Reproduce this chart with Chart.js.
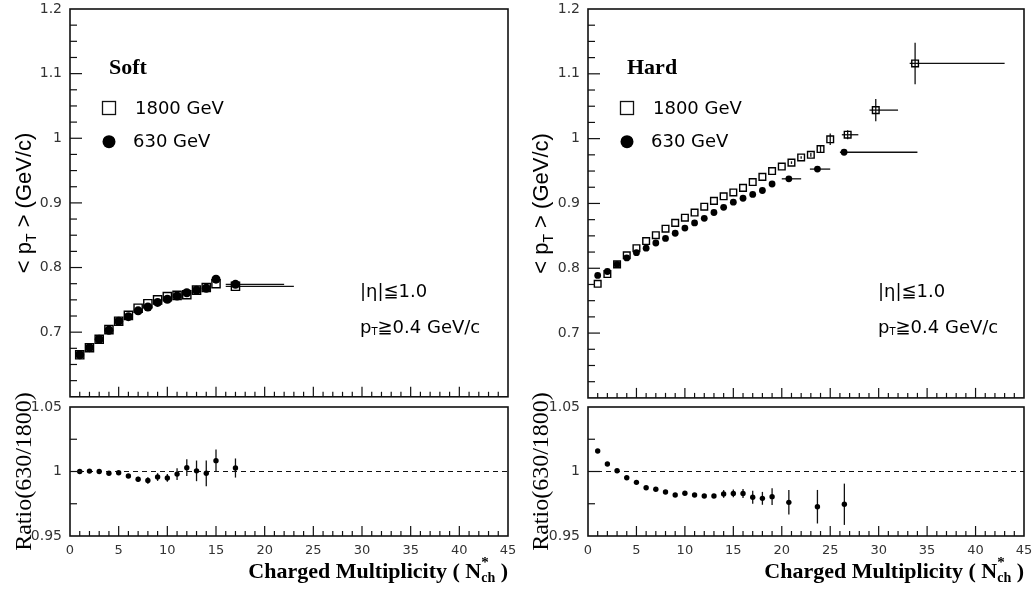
<!DOCTYPE html>
<html>
<head>
<meta charset="utf-8">
<script src="https://cdn.jsdelivr.net/npm/chart.js@4.4.1/dist/chart.umd.min.js"></script>
<style>
  body { margin: 0; background: #fff; }
  #wrap { position: relative; width: 1034px; height: 590px; }
  canvas { position: absolute; }
</style>
</head>
<body>
<div id="wrap">
  <canvas id="softTop" width="517" height="404" style="left:0px;top:0px"></canvas>
  <canvas id="softRatio" width="517" height="210" style="left:0px;top:380px"></canvas>
  <canvas id="hardTop" width="517" height="404" style="left:517px;top:0px"></canvas>
  <canvas id="hardRatio" width="517" height="210" style="left:517px;top:380px"></canvas>
</div>
<script>
// ---- data ----
// Soft events
const softN = [1, 2, 3, 4, 5, 6, 7, 8, 9, 10, 11, 12, 13, 14, 15, 17];
const soft1800 = [0.665, 0.676, 0.689, 0.704, 0.717, 0.726, 0.737, 0.744, 0.750, 0.755, 0.757, 0.758, 0.765, 0.769, 0.775, 0.771];
const soft630 = [0.665, 0.676, 0.689, 0.703, 0.717, 0.724, 0.733, 0.739, 0.746, 0.751, 0.756, 0.761, 0.765, 0.768, 0.782, 0.774];
const soft1800Bins = [[16, 23]];   // x range of the last point(s)
const soft630Bins = [[16, 22]];
const softRatio = [1.000, 1.0003, 1.000, 0.9986, 0.999, 0.9965, 0.994, 0.993, 0.9957, 0.995, 0.998, 1.003, 1.0005, 0.9986, 1.0084, 1.0027];
const softRatioErr = [0.001, 0.001, 0.001, 0.001, 0.001, 0.0015, 0.002, 0.0025, 0.003, 0.003, 0.0045, 0.0065, 0.008, 0.010, 0.0087, 0.0074];

// Hard events
const hardN1800 = [1, 2, 3, 4, 5, 6, 7, 8, 9, 10, 11, 12, 13, 14, 15, 16, 17, 18, 19, 20, 21, 22, 23, 24, 25, 26.8, 29.7, 33.76];
const hard1800 = [0.776, 0.791, 0.806, 0.820, 0.831, 0.842, 0.851, 0.861, 0.870, 0.878, 0.886, 0.895, 0.904, 0.911, 0.917, 0.924, 0.933, 0.941, 0.950, 0.957, 0.963, 0.971, 0.975, 0.984, 0.999, 1.006, 1.044, 1.116];
const hard1800Err = [0, 0, 0, 0, 0, 0, 0, 0, 0, 0, 0, 0, 0, 0, 0, 0, 0, 0, 0, 0, 0.002, 0.002, 0.003, 0.006, 0.009, 0.007, 0.017, 0.032];
const hard1800Bins = [[26.2, 27.9], [29.05, 32.0], [33.2, 43.0]];
const hardN630 = [1, 2, 3, 4, 5, 6, 7, 8, 9, 10, 11, 12, 13, 14, 15, 16, 17, 18, 19, 20.73, 23.68, 26.43];
const hard630 = [0.789, 0.795, 0.806, 0.816, 0.824, 0.831, 0.839, 0.846, 0.854, 0.862, 0.870, 0.877, 0.886, 0.894, 0.902, 0.908, 0.914, 0.920, 0.930, 0.938, 0.953, 0.979];
const hard630Err = [0, 0, 0, 0, 0, 0, 0, 0, 0, 0, 0, 0, 0, 0, 0, 0, 0, 0, 0, 0.002, 0.003, 0.004];
const hard630Bins = [[20.0, 22.0], [22.9, 25.0], [26.0, 34.0]];
const hardRatioN = [1, 2, 3, 4, 5, 6, 7, 8, 9, 10, 11, 12, 13, 14, 15, 16, 17, 18, 19, 20.73, 23.68, 26.46];
const hardRatio = [1.0159, 1.0058, 1.0006, 0.9952, 0.9916, 0.9874, 0.9862, 0.9841, 0.9818, 0.9831, 0.9818, 0.981, 0.981, 0.9826, 0.983, 0.983, 0.980, 0.9792, 0.9805, 0.9761, 0.9727, 0.9746];
const hardRatioErr = [0.0005, 0.0005, 0.0005, 0.0005, 0.0005, 0.0005, 0.0005, 0.0005, 0.001, 0.001, 0.001, 0.001, 0.001, 0.003, 0.003, 0.0035, 0.005, 0.005, 0.0065, 0.0095, 0.013, 0.016];

const xMax = 45;
const topRange = [0.6, 1.2];
const ratioRange = [0.95, 1.05];

// ---- helpers ----
const SANS = "'DejaVu Sans', 'Liberation Sans', sans-serif";
const ARIAL = "'Liberation Sans', Arial, sans-serif";
const SERIF = "'Liberation Serif', 'Times New Roman', serif";

function pts(xs, ys) {
  return xs.map((x, i) => ({ x: x, y: ys[i] }));
}
function binsFor(n, bins) {
  // horizontal error bars only on the last len(bins) points
  const out = [];
  for (let i = 0; i < n; i++) out.push(i >= n - bins.length ? bins[i - (n - bins.length)] : null);
  return out;
}

function richText(ctx, parts, x, y, align) {
  let w = 0;
  parts.forEach(p => { ctx.font = p[1]; if (p[3] !== false) w += ctx.measureText(p[0]).width; });
  let cx = align === 'right' ? x - w : align === 'center' ? x - w / 2 : x;
  ctx.textAlign = 'left';
  parts.forEach(p => {
    ctx.font = p[1];
    ctx.fillText(p[0], cx, y + (p[2] || 0));
    if (p[3] !== false) cx += ctx.measureText(p[0]).width;
  });
}

function line(ctx, x1, y1, x2, y2) {
  ctx.beginPath(); ctx.moveTo(x1, y1); ctx.lineTo(x2, y2); ctx.stroke();
}

const deco = {
  id: 'deco',
  beforeDatasetsDraw(chart, args, o) {
    const { ctx, scales: { x, y } } = chart;
    ctx.save();
    ctx.strokeStyle = '#111';
    ctx.lineWidth = 1.3;
    if (o.kind === 'ratio') {
      ctx.save();
      ctx.setLineDash([5, 4]);
      ctx.lineWidth = 1;
      const py = y.getPixelForValue(1);
      line(ctx, x.getPixelForValue(0), py, x.getPixelForValue(xMax), py);
      ctx.restore();
    }
    chart.data.datasets.forEach(ds => {
      ds.data.forEach((p, i) => {
        const px = x.getPixelForValue(p.x), py = y.getPixelForValue(p.y);
        const e = ds.errY ? ds.errY[i] : 0;
        if (e) line(ctx, px, y.getPixelForValue(p.y - e), px, y.getPixelForValue(p.y + e));
        const b = ds.errX ? ds.errX[i] : null;
        if (b) line(ctx, x.getPixelForValue(b[0]), py, x.getPixelForValue(b[1]), py);
      });
    });
    ctx.restore();
  },
  afterDraw(chart, args, o) {
    const { ctx, chartArea: a, scales: { x, y } } = chart;
    ctx.save();
    // frame
    ctx.strokeStyle = '#111';
    ctx.lineWidth = 1.6;
    ctx.strokeRect(a.left, a.top, a.right - a.left, a.bottom - a.top);
    // inward ticks
    ctx.lineWidth = 1.2;
    for (let k = 1; k < xMax; k++) {
      const px = x.getPixelForValue(k);
      line(ctx, px, a.bottom, px, a.bottom - (k % 5 === 0 ? 10 : 5));
    }
    const lo = o.kind === 'top' ? topRange[0] : ratioRange[0];
    const hi = o.kind === 'top' ? topRange[1] : ratioRange[1];
    const step = 0.025;
    const nT = Math.round((hi - lo) / step);
    for (let k = 1; k < nT; k++) {
      const v = lo + k * step;
      const major = o.kind === 'top' ? (k % 4 === 0) : (Math.abs(v - 1) < 1e-6);
      const py = y.getPixelForValue(v);
      line(ctx, a.left, py, a.left + (major ? 12 : 7), py);
    }
    ctx.fillStyle = '#000';
    ctx.textBaseline = 'alphabetic';
    if (o.kind === 'top') {
      const L = a.left;
      ctx.textBaseline = 'middle';
      ctx.font = 'bold 22px ' + SERIF;
      ctx.textAlign = 'left';
      ctx.fillText(o.label, L + 39, 68);
      // legend
      ctx.lineWidth = 1.3;
      ctx.strokeRect(L + 32.5, 101.5, 13, 13);
      ctx.beginPath(); ctx.arc(L + 39, 141.7, 6.5, 0, Math.PI * 2); ctx.fill();
      ctx.font = '18px ' + SANS;
      ctx.fillText('1800 GeV', L + 65, 109);
      ctx.fillText('630 GeV', L + 63, 142);
      // cuts
      ctx.fillText('|\u03b7|\u22661.0', L + 290, 292);
      ctx.textBaseline = 'alphabetic';
      richText(ctx, [['p', '18px ' + SANS, 0], ['T', '10px ' + SANS, 2], ['\u22670.4 GeV/c', '18px ' + SANS, 0]], L + 290, 333, 'left');
      // y title
      ctx.translate(23, (a.top + a.bottom) / 2);
      ctx.rotate(-Math.PI / 2);
      richText(ctx, [['< p', '22px ' + ARIAL, 0], ['T', '14px ' + ARIAL, 5], [' > (GeV/c)', '22px ' + ARIAL, 0]], 0, 8, 'center');
    } else {
      richText(ctx, [
        ['Charged Multiplicity ( N', 'bold 22px ' + SERIF, 0],
        ['*', 'bold 15px ' + SERIF, -11, false],
        ['ch', 'bold 14px ' + SERIF, 4],
        [' )', 'bold 22px ' + SERIF, 0]
      ], a.right, 198, 'right');
      ctx.translate(23, (a.top + a.bottom) / 2);
      ctx.rotate(-Math.PI / 2);
      ctx.font = '24px ' + SERIF;
      ctx.textAlign = 'center';
      ctx.fillText('Ratio(630/1800)', 0, 8);
    }
    ctx.restore();
  }
};
Chart.register(deco);

function fmt(v) { return String(+v.toFixed(3)); }

function makeChart(id, kind, yWidth, padRight, datasets, label) {
  const isTop = kind === 'top';
  const range = isTop ? topRange : ratioRange;
  const xScale = {
    type: 'linear', min: 0, max: xMax, display: !isTop,
    grid: { display: false, drawTicks: false }, border: { display: false },
    ticks: { stepSize: 5, padding: 7, maxRotation: 0, color: '#333', font: { family: SANS, size: 13 } }
  };
  if (!isTop) xScale.afterFit = s => { s.height = 54; s.paddingLeft = 0; s.paddingRight = 0; };
  return new Chart(document.getElementById(id), {
    type: 'scatter',
    data: { datasets: datasets },
    options: {
      responsive: false, animation: false, events: [],
      layout: { padding: { top: isTop ? 9 : 27, right: padRight, bottom: 0, left: 0 } },
      plugins: { legend: { display: false }, tooltip: { enabled: false }, deco: { kind: kind, label: label } },
      scales: {
        x: xScale,
        y: {
          type: 'linear', min: range[0], max: range[1],
          grid: { display: false, drawTicks: false }, border: { display: false },
          ticks: { stepSize: isTop ? 0.1 : 0.05, padding: 8, color: '#333', font: { family: SANS, size: 14 }, callback: fmt },
          afterBuildTicks: s => { if (isTop) s.ticks = s.ticks.filter(t => t.value > 0.65); },
          afterFit: s => { s.width = yWidth; s.paddingTop = 0; s.paddingBottom = 0; }
        }
      }
    }
  });
}

function circles(xs, ys, r, err, bins) {
  return {
    data: pts(xs, ys), pointStyle: 'circle', pointRadius: r,
    backgroundColor: '#000', borderColor: '#000', borderWidth: 0,
    errY: err, errX: bins ? binsFor(xs.length, bins) : null
  };
}
function squares(xs, ys, r, err, bins) {
  return {
    data: pts(xs, ys), pointStyle: 'rect', pointRadius: r,
    backgroundColor: 'rgba(0,0,0,0)', borderColor: '#000', borderWidth: 1.4,
    errY: err, errX: bins ? binsFor(xs.length, bins) : null
  };
}
function ratioPts(xs, ys, err) {
  return {
    data: pts(xs, ys), pointStyle: 'circle', pointRadius: 2.7,
    backgroundColor: '#000', borderColor: '#000', borderWidth: 0, errY: err
  };
}

makeChart('softTop', 'top', 70, 9, [
  circles(softN, soft630, 4.5, null, soft630Bins),
  squares(softN, soft1800, 5.8, null, soft1800Bins)
], 'Soft');
makeChart('softRatio', 'ratio', 70, 9, [ratioPts(softN, softRatio, softRatioErr)]);
makeChart('hardTop', 'top', 71, 10, [
  circles(hardN630, hard630, 3.4, hard630Err, hard630Bins),
  squares(hardN1800, hard1800, 4.7, hard1800Err, hard1800Bins)
], 'Hard');
makeChart('hardRatio', 'ratio', 71, 10, [ratioPts(hardRatioN, hardRatio, hardRatioErr)]);
</script>
</body>
</html>
